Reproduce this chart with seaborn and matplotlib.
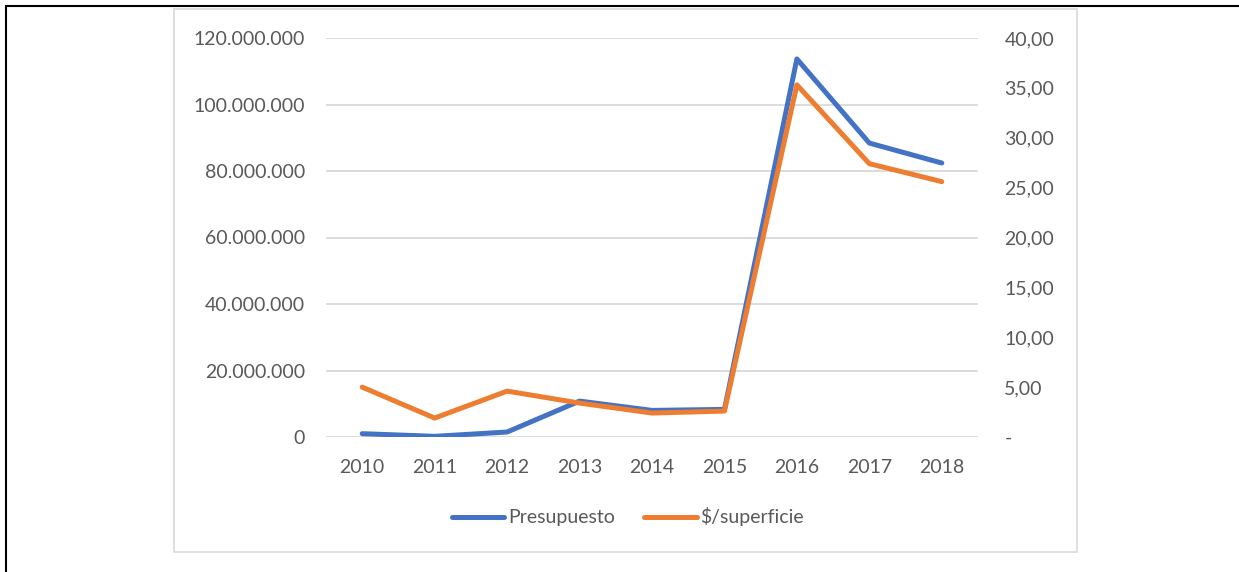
import numpy as np
import pandas as pd
import seaborn as sns
import matplotlib.pyplot as plt
from matplotlib.lines import Line2D
from matplotlib.patches import Rectangle
from matplotlib.ticker import FuncFormatter

# data
years = ['2010', '2011', '2012', '2013', '2014', '2015', '2016', '2017', '2018']
presupuesto = [1.0e6, 0.2e6, 1.5e6, 10.8e6, 8.0e6, 8.3e6, 113.7e6, 88.4e6, 82.4e6]
superficie = [5.0, 1.9, 4.6, 3.4, 2.4, 2.6, 35.3, 27.4, 25.6]

df = pd.DataFrame({'year': years, 'Presupuesto': presupuesto, '$/superficie': superficie})

sns.set_style("white")
plt.rcParams['font.family'] = ['Lato', 'DejaVu Sans']

blue = '#4472C4'
orange = '#ED7D31'
grey_txt = '#595959'
grid_c = '#D9D9D9'
W, H = 1239, 572

fig = plt.figure(figsize=(W / 100, H / 100), dpi=100)
ax = fig.add_axes([326 / W, 1 - 437 / H, (978 - 326) / W, (437 - 38) / H])
ax2 = ax.twinx()

# outer frame (left + top) and chart box
fig.add_artist(Line2D([6 / W, 6 / W], [0, 1 - 6 / H], color='black', lw=1.5, transform=fig.transFigure))
fig.add_artist(Line2D([6 / W, 1], [1 - 6 / H, 1 - 6 / H], color='black', lw=1.5, transform=fig.transFigure))
fig.add_artist(Rectangle((174 / W, 1 - 552 / H), (1077 - 174) / W, (552 - 9) / H,
                         fill=False, ec=grid_c, lw=1.2, transform=fig.transFigure, zorder=0))

sns.lineplot(data=df, x='year', y='Presupuesto', ax=ax, color=blue, lw=3.6,
             sort=False, solid_capstyle='round', label='Presupuesto', legend=False)
sns.lineplot(data=df, x='year', y='$/superficie', ax=ax2, color=orange, lw=3.6,
             sort=False, solid_capstyle='round', label='$/superficie', legend=False)

ax.set_xlim(-0.5, len(years) - 0.5)
ax.set_ylim(0, 120e6)
ax2.set_ylim(0, 40)
ax.set_yticks(np.arange(0, 120e6 + 1, 20e6))
ax2.set_yticks(np.arange(0, 41, 5))

ax.yaxis.set_major_formatter(FuncFormatter(lambda v, p: f'{v:,.0f}'.replace(',', '.')))
ax2.yaxis.set_major_formatter(FuncFormatter(lambda v, p: '-' if v == 0 else f'{v:.2f}'.replace('.', ',')))

ax.grid(axis='y', color=grid_c, lw=1.3)
ax.set_axisbelow(True)
for a in (ax, ax2):
    for s in a.spines.values():
        s.set_visible(False)
    a.set_xlabel('')
    a.set_ylabel('')
ax.tick_params(axis='y', length=0, pad=15, labelsize=14, labelcolor=grey_txt)
ax2.tick_params(axis='y', length=0, pad=19, labelsize=14, labelcolor=grey_txt)
ax.tick_params(axis='x', length=0, pad=16, labelsize=14, labelcolor=grey_txt)

handles = [Line2D([], [], color=blue, lw=3.6, solid_capstyle='round'),
           Line2D([], [], color=orange, lw=3.6, solid_capstyle='round')]
leg = fig.legend(handles, ['Presupuesto', '$/superficie'], loc='center',
                 bbox_to_anchor=(628 / W, 1 - 517 / H), ncol=2, frameon=False,
                 fontsize=14, handlelength=2.7, handletextpad=0.2, columnspacing=1.5)
for t in leg.get_texts():
    t.set_color(grey_txt)

fig.savefig('out.png', dpi=100, facecolor='white')
